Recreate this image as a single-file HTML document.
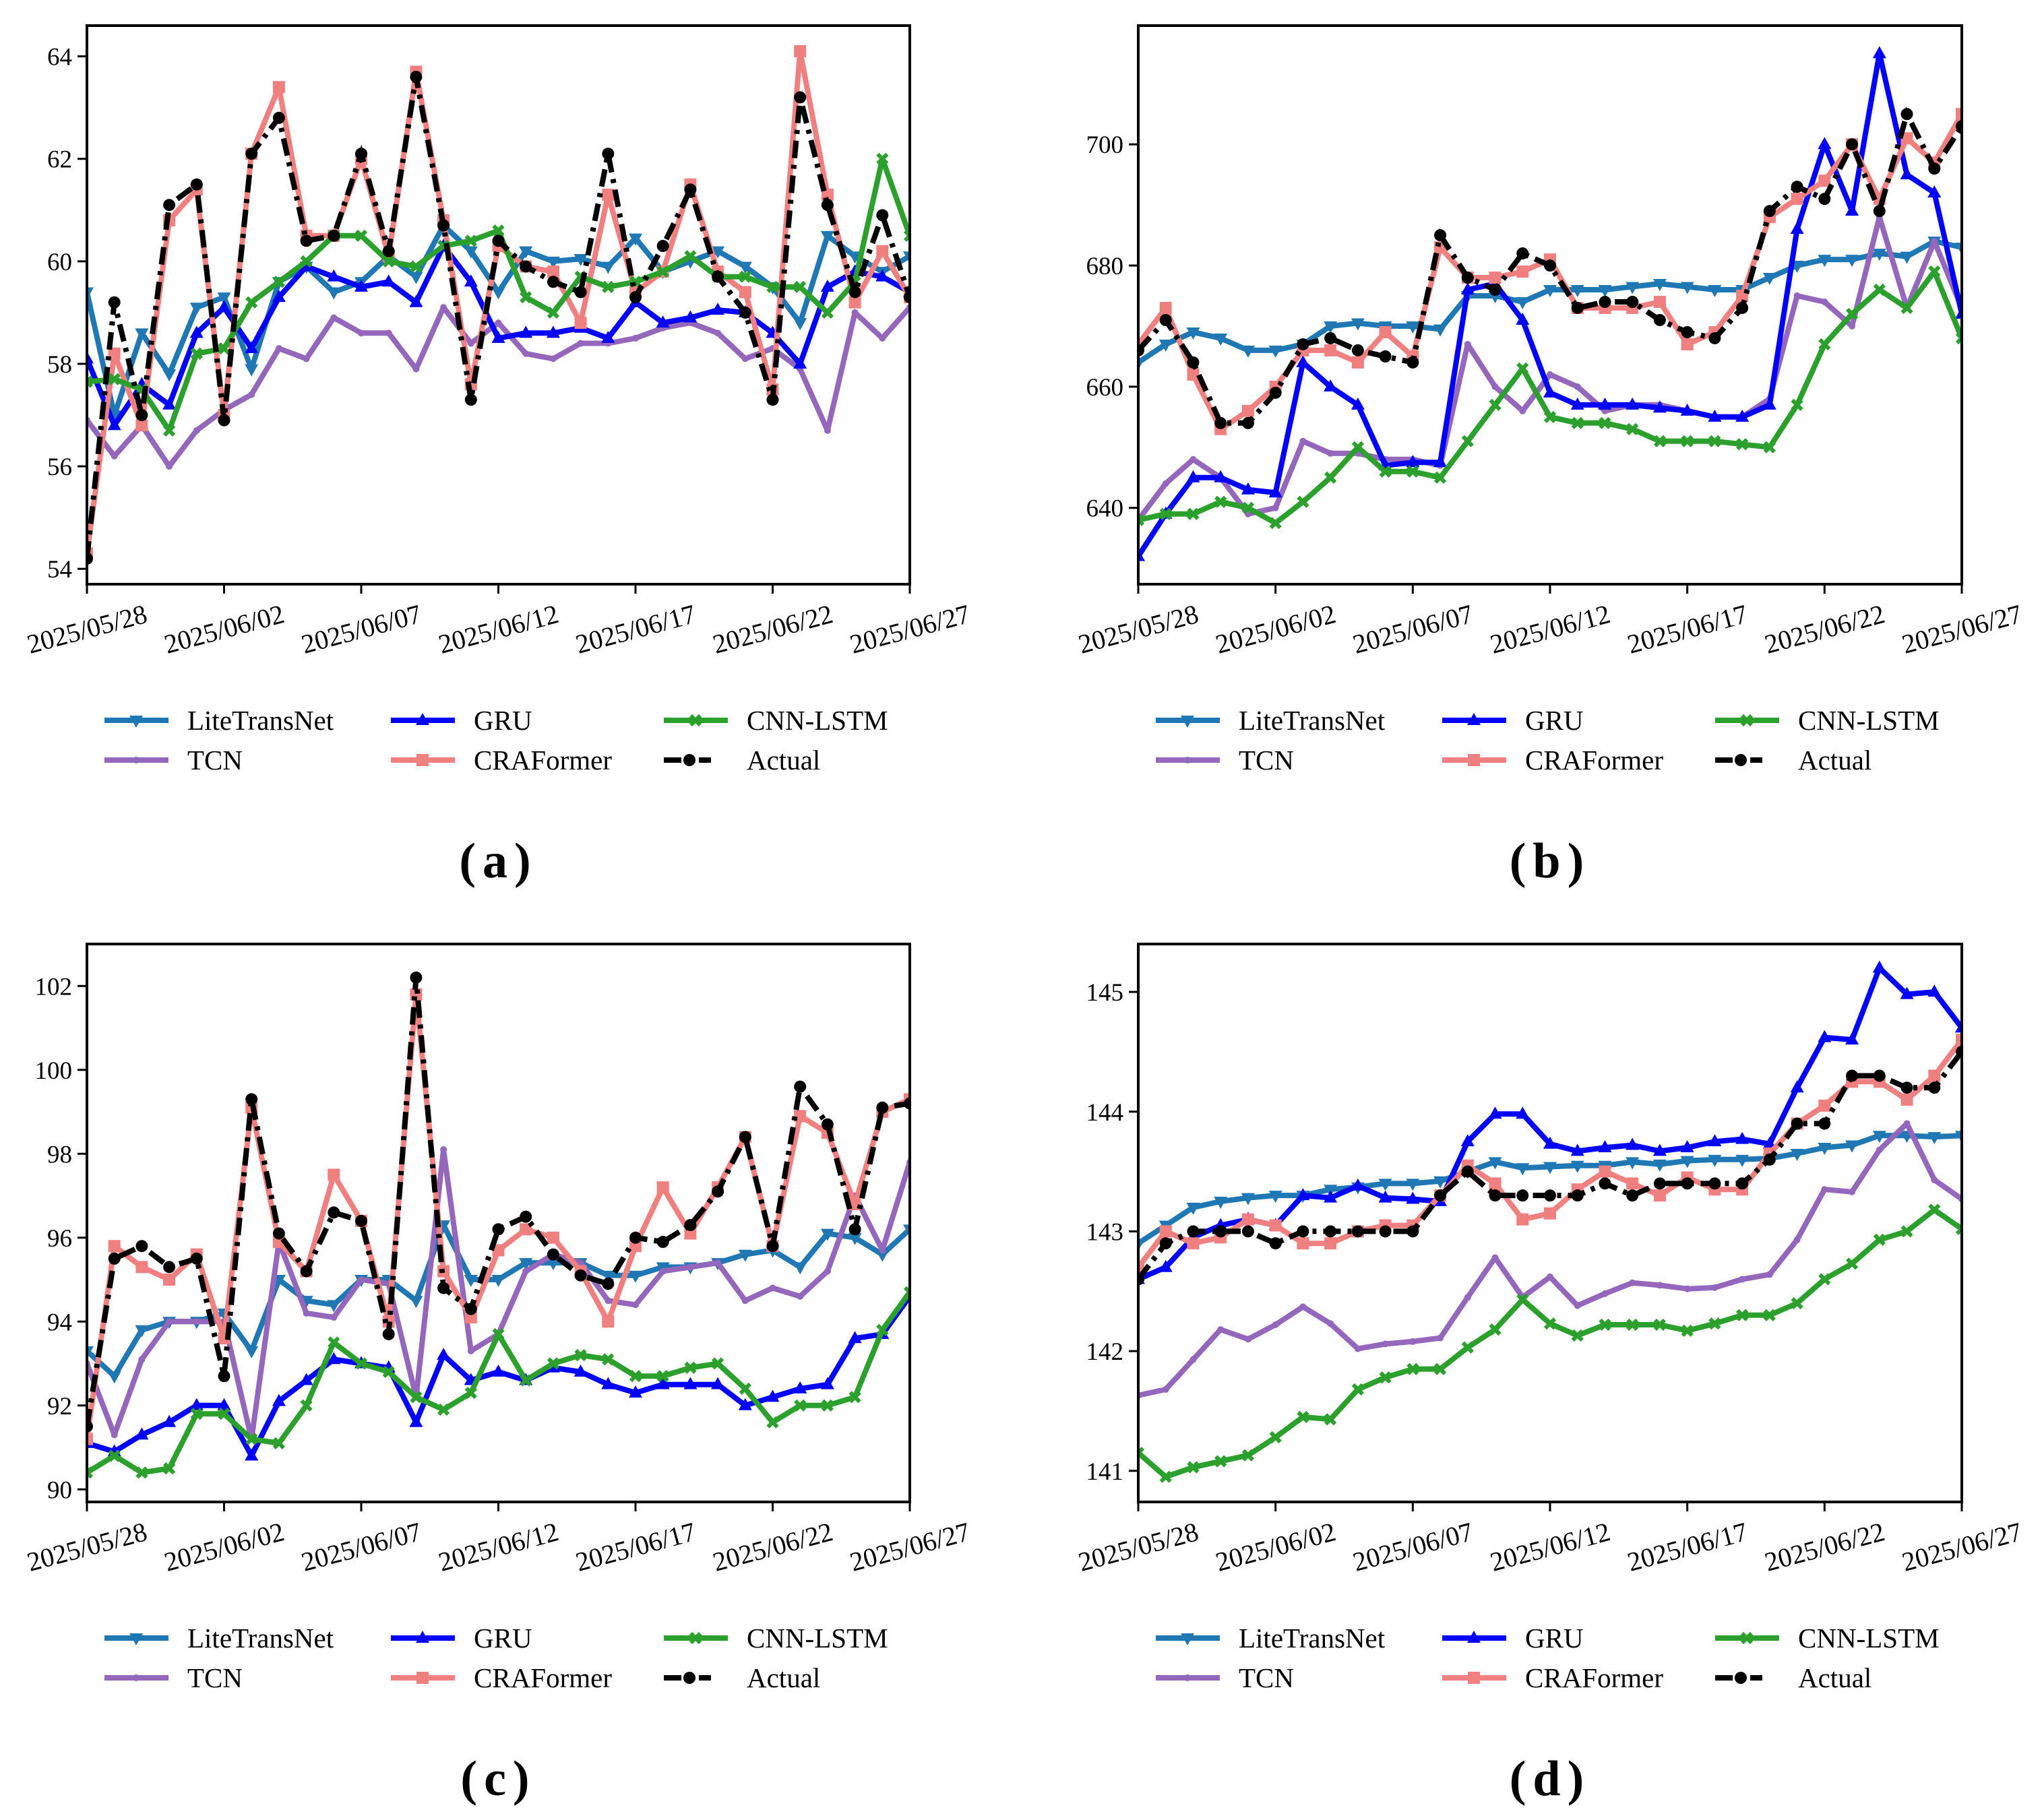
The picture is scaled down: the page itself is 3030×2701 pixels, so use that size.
<!DOCTYPE html>
<html><head><meta charset="utf-8"><style>
html,body{margin:0;padding:0;background:#fff}
svg{display:block}
text{font-family:"Liberation Serif",serif}
</style></head><body>
<svg id="fig" width="3030" height="2701" viewBox="0 0 3030 2701" xmlns="http://www.w3.org/2000/svg"></svg>
<script>
const dates = ["2025/05/28","2025/06/02","2025/06/07","2025/06/12","2025/06/17","2025/06/22","2025/06/27"];
const seriesNames = ["LiteTransNet","TCN","GRU","CRAFormer","CNN-LSTM","Actual"];
// panel a
const aLite=[59.4,57.0,58.6,57.8,59.1,59.3,57.9,59.6,59.9,59.4,59.6,60.1,59.7,60.7,60.2,59.4,60.2,60.0,60.05,59.9,60.45,59.8,60.0,60.2,59.9,59.5,58.8,60.5,60.1,59.8,60.1];
const aTCN=[56.9,56.2,56.8,56.0,56.7,57.1,57.4,58.3,58.1,58.9,58.6,58.6,57.9,59.1,58.4,58.8,58.2,58.1,58.4,58.4,58.5,58.7,58.8,58.6,58.1,58.3,57.9,56.7,59.0,58.5,59.1];
const aGRU=[58.1,56.8,57.6,57.2,58.6,59.1,58.3,59.3,59.9,59.7,59.5,59.6,59.2,60.3,59.6,58.5,58.6,58.6,58.7,58.5,59.2,58.8,58.9,59.05,59.0,58.6,58.0,59.5,59.8,59.7,59.4];
const aCRA=[54.3,58.2,56.8,60.8,61.4,57.0,62.1,63.4,60.5,60.5,62.0,60.1,63.7,60.8,57.6,60.3,59.9,59.8,58.8,61.3,59.4,59.8,61.5,59.8,59.4,57.5,64.1,61.3,59.2,60.2,59.3];
const aCNN=[57.65,57.7,57.5,56.7,58.2,58.3,59.2,59.6,60.0,60.5,60.5,60.0,59.9,60.3,60.4,60.6,59.3,59.0,59.7,59.5,59.6,59.8,60.1,59.7,59.7,59.5,59.5,59.0,59.6,62.0,60.5];
const aAct=[54.2,59.2,57.0,61.1,61.5,56.9,62.1,62.8,60.4,60.5,62.1,60.2,63.6,60.7,57.3,60.4,59.9,59.6,59.4,62.1,59.3,60.3,61.4,59.7,59.0,57.3,63.2,61.1,59.4,60.9,59.3];
const aTicks=[54,56,58,60,62,64];
// panel b
const bLite=[664,667,669,668,666,666,667,670,670.5,670,670,669.5,675,675,674,676,676,676,676.5,677,676.5,676,676,678,680,681,681,682,681.5,684,683];
const bTCN=[638,644,648,645,639,640,651,649,649,648,648,647,667,660,656,662,660,656,657,657,656,655,655,658,675,674,670,688,673,684,673];
const bGRU=[632,639,645,645,643,642.5,664,660,657,647,647.5,647.5,676,677,671,659,657,657,657,656.5,656,655,655,657,686,700,689,715,695,692,672];
const bCRA=[667,673,662,653,656,660,666,666,664,669,665,683,678,678,679,681,673,673,673,674,667,669,675,688,691,694,700,691,701,697,705];
const bCNN=[638,639,639,641,640,637.5,641,645,650,646,646,645,651,657,663,655,654,654,653,651,651,651,650.5,650,657,667,672,676,673,679,668];
const bAct=[666,671,664,654,654,659,667,668,666,665,664,685,678,676,682,680,673,674,674,671,669,668,673,689,693,691,700,689,705,696,703];
const bTicks=[640,660,680,700];
// panel c
const cLite=[93.3,92.7,93.8,94.0,94.0,94.2,93.3,95.0,94.5,94.4,95.0,95.0,94.5,96.3,95.0,95.0,95.4,95.4,95.4,95.1,95.1,95.3,95.3,95.4,95.6,95.7,95.3,96.1,96.0,95.6,96.2];
const cTCN=[93.0,91.3,93.1,94.0,94.0,94.0,91.2,95.9,94.2,94.1,95.0,94.9,92.2,98.1,93.3,93.7,95.2,95.6,95.4,94.5,94.4,95.2,95.3,95.4,94.5,94.8,94.6,95.2,97.0,95.7,97.8];
const cGRU=[91.1,90.9,91.3,91.6,92.0,92.0,90.8,92.1,92.6,93.1,93.0,92.9,91.6,93.2,92.6,92.8,92.6,92.9,92.8,92.5,92.3,92.5,92.5,92.5,92.0,92.2,92.4,92.5,93.6,93.7,94.6];
const cCRA=[91.2,95.8,95.3,95.0,95.6,93.6,99.1,95.9,95.2,97.5,96.4,94.0,101.8,95.2,94.1,95.7,96.2,96.0,95.2,94.0,95.8,97.2,96.1,97.2,98.4,95.8,98.9,98.5,96.8,99.0,99.3];
const cCNN=[90.4,90.8,90.4,90.5,91.8,91.8,91.2,91.1,92.0,93.5,93.0,92.8,92.2,91.9,92.3,93.7,92.6,93.0,93.2,93.1,92.7,92.7,92.9,93.0,92.4,91.6,92.0,92.0,92.2,93.8,94.7];
const cAct=[91.5,95.5,95.8,95.3,95.5,92.7,99.3,96.1,95.2,96.6,96.4,93.7,102.2,94.8,94.3,96.2,96.5,95.6,95.1,94.9,96.0,95.9,96.3,97.1,98.4,95.8,99.6,98.7,96.2,99.1,99.2];
const cTicks=[90,92,94,96,98,100,102];
// panel d
const dLite=[142.9,143.05,143.2,143.25,143.28,143.3,143.3,143.35,143.37,143.4,143.4,143.42,143.5,143.58,143.53,143.54,143.55,143.55,143.58,143.56,143.59,143.6,143.6,143.61,143.65,143.7,143.72,143.8,143.8,143.79,143.8];
const dTCN=[141.63,141.68,141.93,142.18,142.1,142.22,142.37,142.23,142.02,142.06,142.08,142.11,142.45,142.78,142.45,142.62,142.38,142.48,142.57,142.55,142.52,142.53,142.6,142.64,142.93,143.35,143.33,143.68,143.9,143.43,143.27];
const dGRU=[142.6,142.7,142.95,143.05,143.1,143.05,143.3,143.28,143.38,143.28,143.27,143.25,143.75,143.98,143.98,143.73,143.67,143.7,143.72,143.67,143.7,143.75,143.77,143.73,144.2,144.62,144.6,145.2,144.98,145.0,144.7];
const dCRA=[142.7,143.0,142.9,142.95,143.1,143.05,142.9,142.9,143.0,143.05,143.05,143.3,143.55,143.4,143.1,143.15,143.35,143.5,143.4,143.3,143.45,143.35,143.35,143.65,143.9,144.05,144.25,144.25,144.1,144.3,144.6];
const dCNN=[141.15,140.95,141.03,141.08,141.13,141.28,141.45,141.43,141.68,141.78,141.85,141.85,142.03,142.18,142.43,142.23,142.13,142.22,142.22,142.22,142.17,142.23,142.3,142.3,142.4,142.6,142.73,142.93,143.0,143.18,143.02];
const dAct=[142.6,142.9,143.0,143.0,143.0,142.9,143.0,143.0,143.0,143.0,143.0,143.3,143.5,143.3,143.3,143.3,143.3,143.4,143.3,143.4,143.4,143.4,143.4,143.6,143.9,143.9,144.3,144.3,144.2,144.2,144.5];
const dTicks=[141,142,143,144,145];

const NS="http://www.w3.org/2000/svg";
const svg=document.getElementById('fig');
function mk(tag,attrs,parent){const e=document.createElementNS(NS,tag);for(const k in attrs)e.setAttribute(k,attrs[k]);(parent||svg).appendChild(e);return e;}
const colors={"LiteTransNet":"#1f77b4","TCN":"#9467bd","GRU":"#0000ff","CRAFormer":"#f08080","CNN-LSTM":"#2ca02c","Actual":"#000000"};
const markers={"LiteTransNet":"tri-down","TCN":"star","GRU":"tri-up","CRAFormer":"square","CNN-LSTM":"x","Actual":"circle"};
function marker(g,type,x,y,c){
  let e;
  if(type==="circle") e=mk('circle',{cx:x,cy:y,r:9,fill:c},g);
  else if(type==="square") e=mk('rect',{x:x-9,y:y-9,width:18,height:18,fill:c},g);
  else if(type==="tri-up") e=mk('polygon',{points:`${x},${y-11} ${x-10},${y+7} ${x+10},${y+7}`,fill:c},g);
  else if(type==="tri-down") e=mk('polygon',{points:`${x},${y+11} ${x-10},${y-7} ${x+10},${y-7}`,fill:c},g);
  else if(type==="x") e=mk('path',{d:`M${x-7},${y-7}L${x+7},${y+7}M${x-7},${y+7}L${x+7},${y-7}`,stroke:c,'stroke-width':6},g);
  else e=mk('circle',{cx:x,cy:y,r:5,fill:c},g);
  return e;
}
function panel(id,L,T,R,B,ymin,ymax,ticks,data,label){
  const g=mk('g',{});
  
  
  const n=31;
  const xs=i=>L+(R-L)*i/(n-1);
  const ys=v=>B-(B-T)*(v-ymin)/(ymax-ymin);
  const cp=mk('clipPath',{id:'clip'+id},g);
  mk('rect',{x:L,y:T,width:R-L,height:B-T},cp);
  const plot=mk('g',{'clip-path':`url(#clip${id})`},g);
  seriesNames.forEach(nm=>{
    const vals=data[nm];
    const sg=mk('g',{},plot);
    
    
    const pts=vals.map((v,i)=>xs(i).toFixed(1)+','+ys(v).toFixed(1)).join(' ');
    const attrs={points:pts,fill:'none',stroke:colors[nm],'stroke-width':8,'stroke-linejoin':'round'};
    if(nm==="Actual"){attrs['stroke-dasharray']='26 10 6 10';attrs['stroke-linejoin']='miter';}
    const ln=mk('polyline',attrs,sg);
    
    
    vals.forEach((v,i)=>{const m=marker(sg,markers[nm],xs(i),ys(v),colors[nm]);
      
      });
  });
  const fr=mk('rect',{x:L,y:T,width:R-L,height:B-T,fill:'none',stroke:'#000','stroke-width':4},g);
  
  
  ticks.forEach(t=>{const y=ys(t);
    mk('line',{x1:L-14,x2:L,y1:y,y2:y,stroke:'#000','stroke-width':3},g);
    const tx=mk('text',{x:L-22,y:y+13,'font-size':37,'text-anchor':'end'},g);tx.textContent=t;
    
    });
  dates.forEach((d,k)=>{const x=xs(k*5);
    mk('line',{x1:x,x2:x,y1:B,y2:B+14,stroke:'#000','stroke-width':3},g);
    const cy=B+66;
    const tx=mk('text',{x:x,y:cy+14,'font-size':40,'text-anchor':'middle',transform:`rotate(-15 ${x} ${cy})`},g);tx.textContent=d;
    
    });
  const lg=mk('g',{},g);
  
  
  const cols=[L+26,L+451,L+856];
  const rows=[B+202,B+261];
  seriesNames.forEach((nm,i)=>{const c=Math.floor(i/2),r=i%2;const x=cols[c],y=rows[r];
    const e=mk('g',{},lg);
    
    
    const la={x1:x,x2:x+95,y1:y,y2:y,stroke:colors[nm],'stroke-width':8};
    if(nm==="Actual"){la['stroke-dasharray']='26 10 6 10';la.x2=x+70;}
    mk('line',la,e);
    marker(e,markers[nm],nm==="Actual"?x+38:x+47,y,colors[nm]);
    const tx=mk('text',{x:x+123,y:y+14,'font-size':41},e);tx.textContent=nm;});
  const cap=mk('text',{x:(L+R)/2,y:B+435,'font-size':74,'font-weight':'bold','letter-spacing':10,'text-anchor':'middle'},g);cap.textContent=label;
  
  
}
panel('a',129,38,1350,867,53.7,64.6,aTicks,{"LiteTransNet":aLite,"TCN":aTCN,"GRU":aGRU,"CRAFormer":aCRA,"CNN-LSTM":aCNN,"Actual":aAct},"(a)");
panel('b',1689,38,2911,867,627.4,719.6,bTicks,{"LiteTransNet":bLite,"TCN":bTCN,"GRU":bGRU,"CRAFormer":bCRA,"CNN-LSTM":bCNN,"Actual":bAct},"(b)");
panel('c',129,1401,1350,2229,89.7,103.0,cTicks,{"LiteTransNet":cLite,"TCN":cTCN,"GRU":cGRU,"CRAFormer":cCRA,"CNN-LSTM":cCNN,"Actual":cAct},"(c)");
panel('d',1689,1401,2911,2229,140.74,145.40,dTicks,{"LiteTransNet":dLite,"TCN":dTCN,"GRU":dGRU,"CRAFormer":dCRA,"CNN-LSTM":dCNN,"Actual":dAct},"(d)");
</script>
</body></html>
